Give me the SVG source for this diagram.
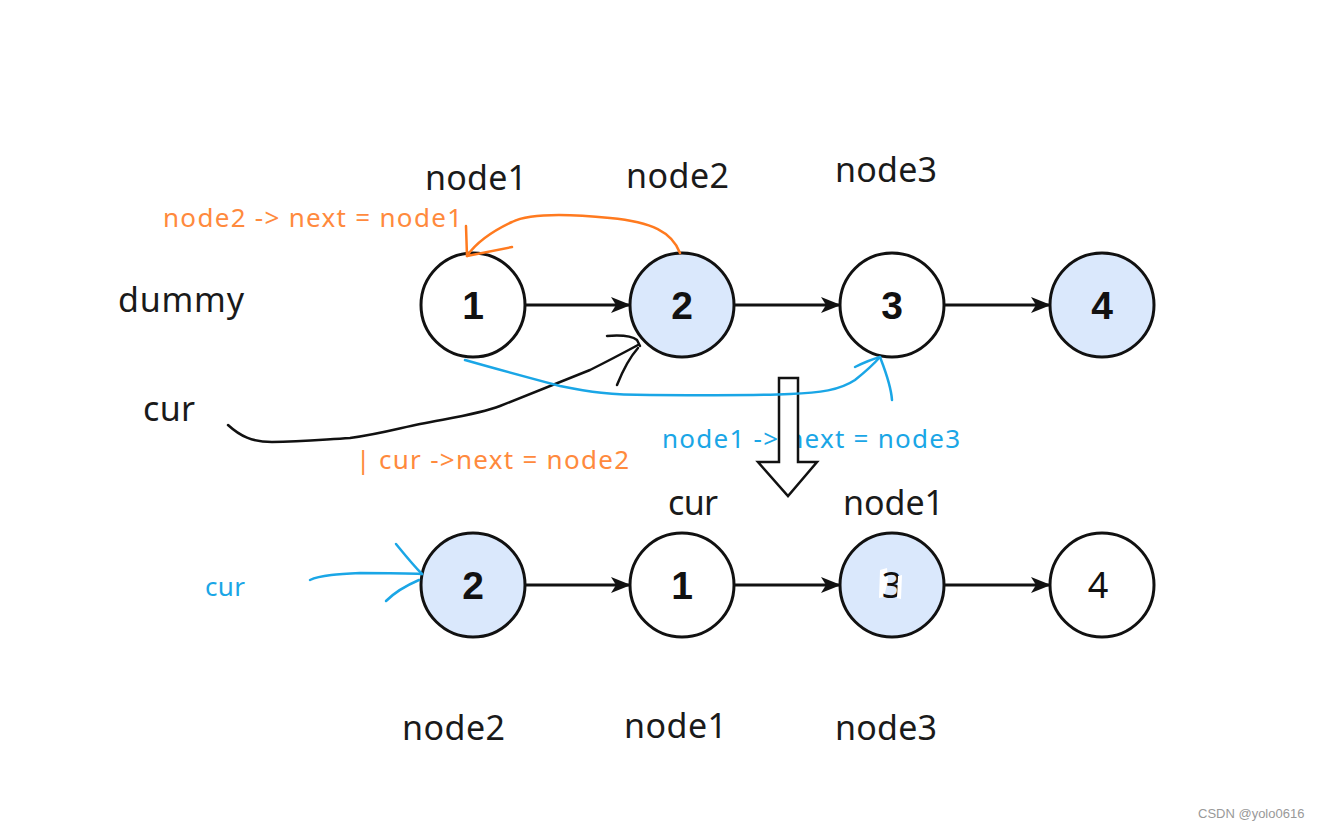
<svg xmlns="http://www.w3.org/2000/svg" width="1321" height="830" viewBox="0 0 1321 830">
<style>
.n{stroke:#111;stroke-width:3}
.w{fill:#fff}
.b{fill:#dae8fc}
.num{font-family:"Liberation Sans",Arial,sans-serif;font-weight:bold;font-size:39px;fill:#111;text-anchor:middle}
.numr{font-family:"Noto Sans","Liberation Sans",sans-serif;font-size:36px;fill:#111;text-anchor:middle}
.lbl{font-family:"Noto Sans","Open Sans",sans-serif;font-size:34px;fill:#1a1a1a}
.or{font-family:"Noto Sans","Open Sans",sans-serif;font-size:26px;fill:#ff8a3d}
.bl{font-family:"Noto Sans","Open Sans",sans-serif;font-size:26px;fill:#1aa6e6}
.edge{stroke:#111;stroke-width:3;fill:none;marker-end:url(#ah)}
.hand{fill:none;stroke-width:2.5;stroke-linecap:round;stroke-linejoin:round}
</style>
<defs>
<marker id="ah" markerWidth="20" markerHeight="16" refX="19" refY="8" orient="auto" markerUnits="userSpaceOnUse">
<path d="M0,0 L20,8 L0,16 L5,8 Z" fill="#111"/>
</marker>
</defs>
<rect width="1321" height="830" fill="#fff"/>

<g id="labels">
<text class="lbl" x="425" y="190" textLength="102">node1</text>
<text class="lbl" x="626" y="188" textLength="103">node2</text>
<text class="lbl" x="835" y="182" textLength="102">node3</text>
<text class="lbl" x="118" y="312" textLength="126">dummy</text>
<text class="lbl" x="143" y="421" textLength="52">cur</text>
<text class="lbl" x="668" y="515" textLength="50">cur</text>
<text class="lbl" x="843" y="515" textLength="101">node1</text>
<text class="lbl" x="402" y="740" textLength="103">node2</text>
<text class="lbl" x="624" y="738" textLength="103">node1</text>
<text class="lbl" x="835" y="740" textLength="102">node3</text>
<text class="or" x="163" y="227" textLength="299">node2 -&gt; next = node1</text>
<text class="or" x="356" y="469">|</text>
<text class="or" x="379" y="469" textLength="250">cur -&gt;next = node2</text>
<text class="bl" x="662" y="448" textLength="298">node1 -&gt; next = node3</text>
<text class="bl" x="205" y="596" textLength="40">cur</text>
<text x="1198" y="818" font-family="Liberation Sans,Arial,sans-serif" font-size="13" fill="#999">CSDN @yolo0616</text>
</g>

<g id="t1"><circle class="n w" cx="473" cy="305" r="52"/><text class="num" x="473" y="319">1</text></g>
<g id="t2"><circle class="n b" cx="682" cy="305" r="52"/><text class="num" x="682" y="319">2</text></g>
<g id="t3"><circle class="n w" cx="892" cy="305" r="52"/><text class="num" x="892" y="319">3</text></g>
<g id="t4"><circle class="n b" cx="1102" cy="305" r="52"/><text class="num" x="1102" y="319">4</text></g>

<g id="b2"><circle class="n b" cx="473" cy="585" r="52"/><text class="num" x="473" y="599">2</text></g>
<g id="b1"><circle class="n w" cx="682" cy="585" r="52"/><text class="num" x="682" y="599">1</text></g>
<g id="b3"><circle class="n b" cx="892" cy="585" r="52"/><path d="M880,570 L887,568 L888,580 L884,597 L879,598 Z" fill="#fff"/><text class="numr" x="892" y="598">3</text><path d="M898,576 L902,575 L901,599 L897,598 Z" fill="#fff"/></g>
<g id="b4"><circle class="n w" cx="1102" cy="585" r="52"/><text class="numr" x="1098" y="598">4</text></g>

<g id="connectors">
<line class="edge" x1="526" y1="305" x2="630" y2="305"/>
<line class="edge" x1="735" y1="305" x2="840" y2="305"/>
<line class="edge" x1="945" y1="305" x2="1050" y2="305"/>
<line class="edge" x1="526" y1="585" x2="630" y2="585"/>
<line class="edge" x1="735" y1="585" x2="840" y2="585"/>
<line class="edge" x1="945" y1="585" x2="1050" y2="585"/>

<path d="M779,378 L798,378 L798,462 L817,462 L788,496 L758,462 L779,462 Z" fill="#fff" stroke="#111" stroke-width="2.5"/>

<path class="hand" stroke="#ff7a1f" d="M680,253 C672,232 652,222 610,218 C570,214 530,213 512,222 C495,230 478,240 467,256"/>
<path class="hand" stroke="#ff7a1f" d="M466,226 L467,256 L512,247"/>

<path class="hand" stroke="#111" d="M228,425 C240,436 252,442 272,442 C300,442 318,440 350,438 C380,434 400,428 420,424 C450,418 480,414 500,406 C530,394 560,382 590,370 C610,360 625,352 638,345"/>
<path class="hand" stroke="#111" d="M607,336 C620,335 632,336 637,340 L640,346 M617,385 C623,370 630,357 638,348"/>

<path class="hand" stroke="#1aa6e6" d="M465,360 C500,370 530,378 560,386 C590,392 610,395 650,395 C700,395 750,396 790,394 C820,393 840,390 855,380 C865,372 873,365 880,357"/>
<path class="hand" stroke="#1aa6e6" d="M855,367 C865,362 873,359 880,357 C885,370 891,385 892,400"/>

<path class="hand" stroke="#1aa6e6" d="M310,580 C320,575 340,574 360,573 C385,573 405,573 422,574"/>
<path class="hand" stroke="#1aa6e6" d="M396,544 C405,555 413,565 422,574 M386,601 C395,592 405,586 419,580"/>
</g>
</svg>
